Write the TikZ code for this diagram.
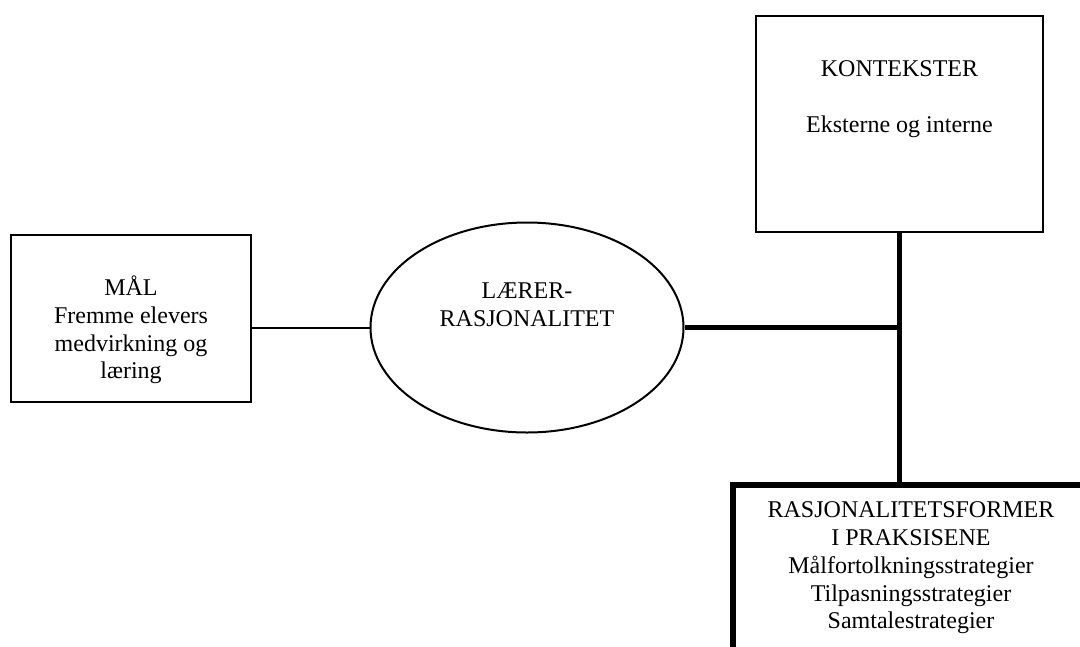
\documentclass[tikz,border=0pt]{standalone}
\usepackage{fontspec}
\setmainfont{Liberation Serif}
\usetikzlibrary{shapes.geometric}
\begin{document}
\begin{tikzpicture}[x=1pt,y=-1pt,
  lbl/.style={align=center,font=\fontsize{24}{27.75}\selectfont,inner sep=0pt},
  boxthin/.style={draw,rectangle,line width=2.5pt,inner sep=0pt},
  boxthick/.style={draw,rectangle,line width=5.5pt,inner sep=0pt},
  oval/.style={draw,ellipse,line width=2pt,inner sep=0pt},
  thinlink/.style={line width=2pt},
  thicklink/.style={line width=5pt}]
\useasboundingbox (0,0) rectangle (1080,646);
\begin{scope}
\clip (0,0) rectangle (1080,646);
\node[boxthin,minimum width=240pt,minimum height=167pt] (M) at (131,318.5) {};
\node[oval,minimum width=313pt,minimum height=210pt] (E) at (527,327.5) {};
\node[boxthin,minimum width=287pt,minimum height=216pt] (K) at (899.5,124) {};
\node[boxthick,minimum width=356pt,minimum height=215pt] (R) at (911,592.5) {};
\node[lbl] (Mt) at (131,330) {MÅL\\Fremme elevers\\medvirkning og\\læring};
\node[lbl] (Et) at (527,305) {LÆRER-\\RASJONALITET};
\node[lbl] (Kt) at (899.5,99) {KONTEKSTER\\[27.75pt]Eksterne og interne};
\node[lbl] (Rt) at (911,568) {RASJONALITETSFORMER\\I PRAKSISENE\\Målfortolkningsstrategier\\Tilpasningsstrategier\\Samtalestrategier};
\coordinate (J) at (K.south |- E.east);
\draw[thinlink] (M.east |- E.west) -- (E.west);
\draw[thicklink] (E.east) -- (J);
\draw[thicklink] (K.south) -- (K.south |- R.north);
\end{scope}
\end{tikzpicture}
\end{document}
